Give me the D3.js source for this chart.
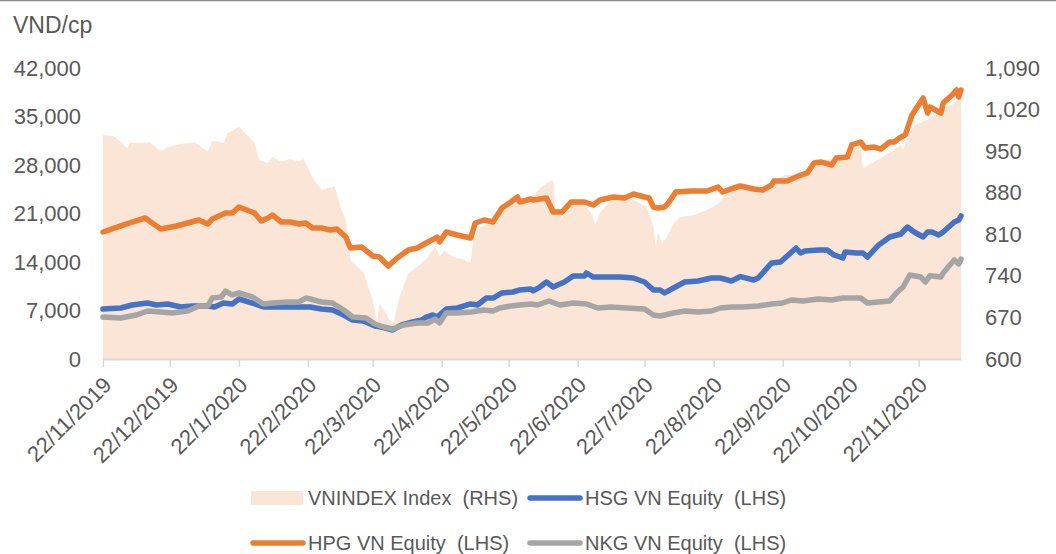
<!DOCTYPE html>
<html>
<head>
<meta charset="utf-8">
<script src="https://cdn.jsdelivr.net/npm/d3@7"></script>
<style>
  html, body { margin: 0; padding: 0; background: #fff; }
  #chart { width: 1056px; height: 554px; }
  text { font-family: "Liberation Sans", Arial, sans-serif; fill: #595959; }
</style>
</head>
<body>
<div id="chart"></div>
<script>
// VNINDEX (right axis)
const vnindex = [
  ["2019-11-22", 977], ["2019-11-27", 975], ["2019-12-03", 955], ["2019-12-04", 964],
  ["2019-12-09", 964], ["2019-12-13", 965], ["2019-12-18", 950], ["2019-12-21", 957],
  ["2019-12-27", 962], ["2019-12-31", 964], ["2020-01-02", 965], ["2020-01-08", 950],
  ["2020-01-10", 967], ["2020-01-15", 964], ["2020-01-17", 980], ["2020-01-22", 991],
  ["2020-01-29", 964], ["2020-01-31", 935], ["2020-02-04", 930], ["2020-02-06", 940],
  ["2020-02-10", 932], ["2020-02-14", 937], ["2020-02-18", 932], ["2020-02-20", 937],
  ["2020-02-24", 905], ["2020-02-26", 896], ["2020-02-28", 885], ["2020-03-02", 888],
  ["2020-03-05", 891], ["2020-03-08", 851], ["2020-03-10", 834], ["2020-03-12", 767],
  ["2020-03-18", 745], ["2020-03-22", 699], ["2020-03-24", 662], ["2020-03-25", 694],
  ["2020-03-28", 677], ["2020-03-31", 657], ["2020-04-03", 704], ["2020-04-07", 745],
  ["2020-04-11", 755], ["2020-04-16", 772], ["2020-04-19", 789], ["2020-04-21", 772],
  ["2020-04-23", 783], ["2020-04-27", 772], ["2020-05-02", 767], ["2020-05-05", 762],
  ["2020-05-06", 800], ["2020-05-09", 822], ["2020-05-15", 829], ["2020-05-20", 856],
  ["2020-05-24", 868], ["2020-06-01", 870], ["2020-06-05", 888], ["2020-06-09", 898],
  ["2020-06-11", 901], ["2020-06-12", 851], ["2020-06-15", 837], ["2020-06-18", 862],
  ["2020-06-24", 864], ["2020-06-28", 846], ["2020-06-30", 826], ["2020-07-02", 846],
  ["2020-07-07", 868], ["2020-07-11", 873], ["2020-07-17", 868], ["2020-07-23", 856],
  ["2020-07-26", 822], ["2020-07-27", 789], ["2020-07-28", 812], ["2020-07-30", 795],
  ["2020-08-01", 805], ["2020-08-04", 829], ["2020-08-07", 839], ["2020-08-13", 842],
  ["2020-08-19", 851], ["2020-08-24", 862], ["2020-08-28", 880], ["2020-09-03", 895],
  ["2020-09-09", 888], ["2020-09-13", 888], ["2020-09-17", 898], ["2020-09-23", 910],
  ["2020-09-29", 910], ["2020-10-05", 921], ["2020-10-09", 932], ["2020-10-15", 938],
  ["2020-10-19", 940], ["2020-10-24", 957], ["2020-10-27", 955], ["2020-10-28", 921],
  ["2020-11-01", 930], ["2020-11-05", 938], ["2020-11-09", 948], ["2020-11-14", 960],
  ["2020-11-15", 952], ["2020-11-17", 974], ["2020-11-20", 994], ["2020-11-24", 999],
  ["2020-11-29", 1011], ["2020-12-03", 1023], ["2020-12-07", 1028], ["2020-12-11", 1040]
];

// HSG VN Equity (left axis)
const hsg = [
  ["2019-11-22", 7220], ["2019-11-30", 7360], ["2019-12-05", 7790], ["2019-12-12", 8080],
  ["2019-12-16", 7790], ["2019-12-21", 7940], ["2019-12-27", 7500], ["2020-01-01", 7650],
  ["2020-01-08", 7650], ["2020-01-11", 7500], ["2020-01-15", 8080], ["2020-01-19", 7940],
  ["2020-01-22", 8660], ["2020-01-28", 8080], ["2020-02-02", 7500], ["2020-02-06", 7500],
  ["2020-02-13", 7500], ["2020-02-18", 7500], ["2020-02-23", 7500], ["2020-02-28", 7220],
  ["2020-03-04", 7070], ["2020-03-09", 6350], ["2020-03-13", 5630], ["2020-03-18", 5480],
  ["2020-03-23", 4760], ["2020-03-26", 4620], ["2020-03-31", 4190], ["2020-04-04", 4910],
  ["2020-04-09", 5340], ["2020-04-13", 5630], ["2020-04-15", 6060], ["2020-04-18", 6350],
  ["2020-04-20", 6060], ["2020-04-24", 7220], ["2020-04-29", 7360], ["2020-05-05", 7940],
  ["2020-05-08", 7790], ["2020-05-12", 8800], ["2020-05-15", 8800], ["2020-05-19", 9530],
  ["2020-05-24", 9670], ["2020-05-27", 9960], ["2020-06-01", 10100], ["2020-06-02", 9820],
  ["2020-06-05", 10390], ["2020-06-08", 11110], ["2020-06-11", 10390], ["2020-06-16", 11110],
  ["2020-06-20", 11980], ["2020-06-25", 11980], ["2020-06-26", 12410], ["2020-06-29", 11830],
  ["2020-07-04", 11830], ["2020-07-11", 11830], ["2020-07-17", 11690], ["2020-07-22", 11110],
  ["2020-07-26", 9960], ["2020-07-29", 9960], ["2020-07-31", 9530], ["2020-08-04", 10250],
  ["2020-08-09", 11110], ["2020-08-15", 11260], ["2020-08-21", 11690], ["2020-08-25", 11690],
  ["2020-08-30", 11260], ["2020-09-03", 11900], ["2020-09-09", 11400], ["2020-09-11", 11690],
  ["2020-09-13", 12410], ["2020-09-17", 13860], ["2020-09-21", 14000], ["2020-09-23", 14580],
  ["2020-09-28", 16020], ["2020-09-30", 15300], ["2020-10-02", 15590], ["2020-10-08", 15730],
  ["2020-10-12", 15730], ["2020-10-15", 15010], ["2020-10-19", 14580], ["2020-10-20", 15440],
  ["2020-10-25", 15300], ["2020-10-28", 15300], ["2020-10-30", 14720], ["2020-11-04", 16450],
  ["2020-11-06", 16890], ["2020-11-09", 17610], ["2020-11-14", 18040], ["2020-11-17", 19050],
  ["2020-11-20", 18330], ["2020-11-24", 17610], ["2020-11-26", 18330], ["2020-11-28", 18330],
  ["2020-12-01", 17900], ["2020-12-03", 18330], ["2020-12-08", 19770], ["2020-12-10", 20060],
  ["2020-12-11", 20640]
];

// HPG VN Equity (left axis)
const hpg = [
  ["2019-11-22", 18330], ["2019-11-30", 19200], ["2019-12-05", 19770], ["2019-12-11", 20350],
  ["2019-12-14", 19630], ["2019-12-18", 18760], ["2019-12-25", 19200], ["2019-12-30", 19630],
  ["2020-01-04", 20060], ["2020-01-08", 19480], ["2020-01-10", 20200], ["2020-01-16", 21070],
  ["2020-01-19", 21070], ["2020-01-22", 21940], ["2020-01-29", 21070], ["2020-02-01", 19920],
  ["2020-02-04", 20350], ["2020-02-06", 20780], ["2020-02-10", 19770], ["2020-02-14", 19770],
  ["2020-02-18", 19480], ["2020-02-21", 19630], ["2020-02-24", 18900], ["2020-02-28", 18900],
  ["2020-03-03", 18620], ["2020-03-06", 18760], ["2020-03-10", 17600], ["2020-03-12", 16020],
  ["2020-03-17", 16170], ["2020-03-22", 14870], ["2020-03-25", 14720], ["2020-03-29", 13420],
  ["2020-04-02", 14580], ["2020-04-07", 15730], ["2020-04-11", 16020], ["2020-04-15", 16740],
  ["2020-04-20", 17600], ["2020-04-21", 16890], ["2020-04-24", 18330], ["2020-04-29", 17900],
  ["2020-05-05", 17460], ["2020-05-07", 19630], ["2020-05-11", 20060], ["2020-05-15", 19770],
  ["2020-05-19", 21790], ["2020-05-23", 22660], ["2020-05-26", 23380], ["2020-05-27", 22660],
  ["2020-06-01", 23090], ["2020-06-02", 22950], ["2020-06-08", 23240], ["2020-06-11", 21220],
  ["2020-06-15", 21220], ["2020-06-19", 22660], ["2020-06-25", 22660], ["2020-06-29", 22230],
  ["2020-07-02", 22950], ["2020-07-08", 23380], ["2020-07-13", 23240], ["2020-07-17", 23810],
  ["2020-07-22", 23380], ["2020-07-24", 23240], ["2020-07-26", 21940], ["2020-07-28", 21790],
  ["2020-07-31", 21940], ["2020-08-02", 22660], ["2020-08-05", 24100], ["2020-08-12", 24250],
  ["2020-08-19", 24250], ["2020-08-24", 24820], ["2020-08-26", 24100], ["2020-08-31", 24680],
  ["2020-09-03", 24970], ["2020-09-09", 24540], ["2020-09-13", 24390], ["2020-09-17", 25110],
  ["2020-09-18", 25690], ["2020-09-24", 25690], ["2020-09-29", 26410], ["2020-10-03", 26850],
  ["2020-10-06", 28290], ["2020-10-09", 28440], ["2020-10-14", 28000], ["2020-10-16", 29010],
  ["2020-10-21", 29150], ["2020-10-23", 30890], ["2020-10-27", 31320], ["2020-10-29", 30450],
  ["2020-11-02", 30590], ["2020-11-05", 30310], ["2020-11-09", 31320], ["2020-11-11", 31320],
  ["2020-11-14", 32040], ["2020-11-16", 32330], ["2020-11-19", 35220], ["2020-11-24", 37670],
  ["2020-11-26", 35500], ["2020-11-27", 36370], ["2020-12-02", 35500], ["2020-12-03", 36950],
  ["2020-12-07", 38100], ["2020-12-09", 38830], ["2020-12-10", 37820], ["2020-12-11", 38830]
];

// NKG VN Equity (left axis)
const nkg = [
  ["2019-11-22", 6060], ["2019-11-30", 5920], ["2019-12-07", 6350], ["2019-12-12", 6930],
  ["2019-12-18", 6780], ["2019-12-23", 6640], ["2019-12-30", 6930], ["2020-01-04", 7650],
  ["2020-01-08", 7650], ["2020-01-10", 8800], ["2020-01-14", 8950], ["2020-01-16", 9810],
  ["2020-01-19", 9240], ["2020-01-22", 9530], ["2020-01-28", 8950], ["2020-02-02", 7940],
  ["2020-02-06", 8080], ["2020-02-13", 8230], ["2020-02-18", 8230], ["2020-02-21", 8800],
  ["2020-02-23", 8660], ["2020-02-28", 8230], ["2020-03-04", 8080], ["2020-03-09", 7070],
  ["2020-03-13", 6060], ["2020-03-19", 5920], ["2020-03-23", 5050], ["2020-03-27", 4620],
  ["2020-03-31", 4330], ["2020-04-05", 4910], ["2020-04-11", 5200], ["2020-04-16", 5200],
  ["2020-04-19", 5770], ["2020-04-21", 5200], ["2020-04-24", 6640], ["2020-04-29", 6640],
  ["2020-05-05", 6780], ["2020-05-11", 7070], ["2020-05-15", 6930], ["2020-05-18", 7360],
  ["2020-05-23", 7650], ["2020-05-27", 7790], ["2020-06-01", 7940], ["2020-06-04", 7790],
  ["2020-06-09", 8370], ["2020-06-14", 7790], ["2020-06-20", 8080], ["2020-06-26", 7940],
  ["2020-07-01", 7360], ["2020-07-07", 7500], ["2020-07-14", 7360], ["2020-07-22", 7220],
  ["2020-07-26", 6350], ["2020-07-29", 6200], ["2020-08-04", 6640], ["2020-08-09", 6930],
  ["2020-08-15", 6780], ["2020-08-21", 6930], ["2020-08-25", 7360], ["2020-08-30", 7500],
  ["2020-09-04", 7500], ["2020-09-11", 7650], ["2020-09-17", 7940], ["2020-09-22", 8080],
  ["2020-09-26", 8520], ["2020-10-01", 8370], ["2020-10-08", 8660], ["2020-10-14", 8520],
  ["2020-10-19", 8800], ["2020-10-27", 8800], ["2020-10-30", 8080], ["2020-11-04", 8230],
  ["2020-11-09", 8370], ["2020-11-12", 9530], ["2020-11-15", 10390], ["2020-11-18", 12120],
  ["2020-11-23", 11830], ["2020-11-25", 11110], ["2020-11-27", 12000], ["2020-12-02", 11830],
  ["2020-12-03", 12410], ["2020-12-06", 13570], ["2020-12-08", 14290], ["2020-12-10", 13710],
  ["2020-12-11", 14430]
];

const leftTicks = [0, 7000, 14000, 21000, 28000, 35000, 42000];
const rightTicks = [600, 670, 740, 810, 880, 950, 1020, 1090];
const dateTicks = [
  "2019-11-22", "2019-12-22", "2020-01-22", "2020-02-22", "2020-03-22", "2020-04-22",
  "2020-05-22", "2020-06-22", "2020-07-22", "2020-08-22", "2020-09-22", "2020-10-22",
  "2020-11-22"
];
const dateRange = ["2019-11-22", "2020-12-11"];

const legendItems = [
  { label: "VNINDEX Index  (RHS)", color: "#FBE5D6", kind: "area" },
  { label: "HSG VN Equity  (LHS)", color: "#4472C4", kind: "line" },
  { label: "HPG VN Equity  (LHS)", color: "#ED7D31", kind: "line" },
  { label: "NKG VN Equity  (LHS)", color: "#A5A5A5", kind: "line" }
];

const parseDate = d3.timeParse('%Y-%m-%d');
const toPoints = arr => arr.map(d => ({ date: parseDate(d[0]), value: +d[1] }));

const width = 1056, height = 554;
const plot = { left: 103, right: 961, top: 68, bottom: 359 };

const svg = d3.select('#chart')
  .append('svg')
  .attr('width', width)
  .attr('height', height);

// top border of the chart frame
svg.append('line')
  .attr('x1', 0).attr('x2', width)
  .attr('y1', 0.5).attr('y2', 0.5)
  .attr('stroke', '#8c8c8c')
  .attr('stroke-width', 1.5);

// Scales
const x = d3.scaleTime()
  .domain(dateRange.map(parseDate))
  .range([plot.left, plot.right]);

const yLeft = d3.scaleLinear()
  .domain([0, 42000])
  .range([plot.bottom, plot.top]);

const yRight = d3.scaleLinear()
  .domain([600, 1090])
  .range([plot.bottom, plot.top]);

// VNINDEX area
const area = d3.area()
  .x(d => x(d.date))
  .y0(yRight(600))
  .y1(d => yRight(d.value));

svg.append('path')
  .datum(toPoints(vnindex))
  .attr('fill', '#FBE5D6')
  .attr('d', area);

// X axis
const xAxis = d3.axisBottom(x)
  .tickValues(dateTicks.map(parseDate))
  .tickFormat(d3.timeFormat('%-d/%-m/%Y'))
  .tickSizeInner(8)
  .tickSizeOuter(0);

const gx = svg.append('g')
  .attr('transform', `translate(0,${plot.bottom})`)
  .call(xAxis);

gx.select('.domain').attr('stroke', '#D9D9D9').attr('stroke-width', 2);
gx.selectAll('.tick line').attr('stroke', '#D9D9D9').attr('stroke-width', 1.5);
gx.selectAll('.tick text')
  .attr('x', 0)
  .attr('y', 0)
  .attr('dy', '0.35em')
  .attr('transform', 'translate(4,22) rotate(-45)')
  .style('text-anchor', 'end')
  .style('font-size', '22px')
  .attr('fill', '#595959');

// Left axis
const gl = svg.append('g')
  .attr('transform', `translate(${plot.left},0)`)
  .call(d3.axisLeft(yLeft).tickValues(leftTicks).tickFormat(d3.format(',')).tickSize(0).tickPadding(22));
gl.select('.domain').remove();
gl.selectAll('text').style('font-size', '22px').attr('fill', '#595959');

// Right axis
const gr = svg.append('g')
  .attr('transform', `translate(${plot.right},0)`)
  .call(d3.axisRight(yRight).tickValues(rightTicks).tickFormat(d3.format(',')).tickSize(0).tickPadding(24));
gr.select('.domain').remove();
gr.selectAll('text').style('font-size', '22px').attr('fill', '#595959');

// Unit label
svg.append('text')
  .attr('x', 13)
  .attr('y', 33)
  .style('font-size', '23px')
  .text('VND/cp');

// Lines
const line = d3.line()
  .x(d => x(d.date))
  .y(d => yLeft(d.value));

[[hsg, '#4472C4'], [hpg, '#ED7D31'], [nkg, '#A5A5A5']].forEach(([series, color]) => {
  svg.append('path')
    .datum(toPoints(series))
    .attr('fill', 'none')
    .attr('stroke', color)
    .attr('stroke-width', 5.5)
    .attr('stroke-linejoin', 'round')
    .attr('stroke-linecap', 'round')
    .attr('d', line);
});

// Legend (two rows, two columns)
const legend = svg.append('g');
legendItems.forEach((item, i) => {
  const col = i % 2, row = Math.floor(i / 2);
  const lx = 251 + col * 277;
  const ly = 498 + row * 45;
  const g = legend.append('g').attr('transform', `translate(${lx},${ly})`);
  if (item.kind === 'area') {
    g.append('rect')
      .attr('x', 0).attr('y', -7)
      .attr('width', 52).attr('height', 14)
      .attr('fill', item.color);
  } else {
    g.append('line')
      .attr('x1', 2).attr('x2', 52)
      .attr('y1', 0).attr('y2', 0)
      .attr('stroke', item.color)
      .attr('stroke-width', 5.5)
      .attr('stroke-linecap', 'round');
  }
  g.append('text')
    .attr('x', 57)
    .attr('y', 0)
    .attr('dy', '0.36em')
    .style('font-size', '20px')
    .style('white-space', 'pre')
    .text(item.label);
});
</script>
</body>
</html>
